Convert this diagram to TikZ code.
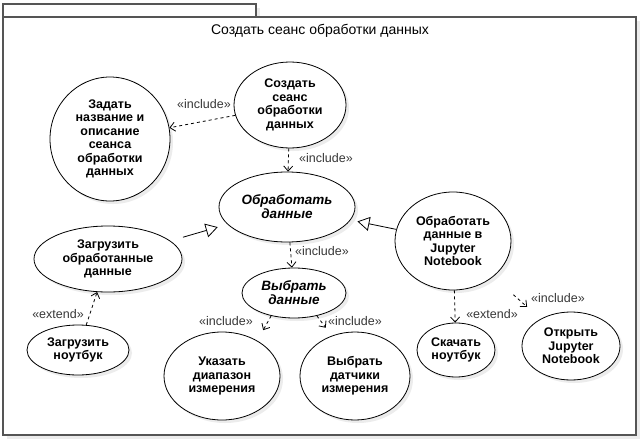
\documentclass[tikz,border=0pt]{standalone}
\usepackage{fontspec}
\setmainfont{Liberation Sans}
\usepackage{tikz}
\usetikzlibrary{
    positioning,
    arrows.meta,
    shapes.geometric,
    shadows
}
\definecolor{frameGray}{RGB}{85, 85, 85}
\definecolor{labelGray}{RGB}{55, 55, 55}
\definecolor{shadowGray}{RGB}{236, 236, 236}

\begin{document}
\begin{tikzpicture}[x=1pt, y=-1pt,
    usecase/.style={ellipse, draw, line width=0.8pt, fill=white, align=center, inner sep=0pt,
        font=\fontsize{12.5}{13.5}\selectfont\bfseries,
        drop shadow={shadow xshift=3pt, shadow yshift=-3pt, fill=shadowGray, opacity=1}},
    abstractcase/.style={usecase, font=\fontsize{13.5}{14}\selectfont\bfseries\itshape},
    dep/.style={dash pattern=on 3pt off 3pt, line width=0.8pt, -{Straight Barb[length=5pt, width=9pt]}},
    gen/.style={line width=0.8pt, -{Triangle[open, length=12pt, width=14pt, fill=white]}},
    stereo/.style={font=\fontsize{12.5}{12.5}\selectfont, text=labelGray, inner sep=1pt},
    frameline/.style={draw=frameGray, line width=1.2pt, fill=white,
        drop shadow={shadow xshift=4pt, shadow yshift=-4pt, fill=shadowGray, opacity=1}}
]
        \useasboundingbox (0,0) rectangle (641,442);

        % package frame
        \draw[frameline] (3,4) rectangle (256,17);
        \draw[frameline] (3,17) rectangle (636,435);
        \node[font=\fontsize{14}{14}\selectfont] (title) at (320,31) {Создать сеанс обработки данных};

        % use cases
        \node[usecase, minimum width=112pt, minimum height=86pt] (create) at (290,105) {Создать\\сеанс\\обработки\\данных};
        \node[usecase, minimum width=120pt, minimum height=124pt] (name) at (110,139) {Задать\\название и\\описание\\сеанса\\обработки\\данных};
        \node[abstractcase, minimum width=136pt, minimum height=70pt] (process) at (287,207) {Обработать\\данные};
        \node[abstractcase, minimum width=104pt, minimum height=50pt] (select) at (294,293) {Выбрать\\данные};
        \node[usecase, minimum width=148pt, minimum height=66pt] (upload) at (108,259) {Загрузить\\обработанные\\данные};
        \node[usecase, minimum width=102pt, minimum height=50pt] (uploadnb) at (78,350) {Загрузить\\ноутбук};
        \node[usecase, minimum width=116pt, minimum height=88pt] (range) at (222,376) {Указать\\диапазон\\измерения};
        \node[usecase, minimum width=110pt, minimum height=88pt] (sensors) at (355,376) {Выбрать\\датчики\\измерения};
        \node[usecase, minimum width=116pt, minimum height=98pt] (jupyter) at (453,241) {Обработать\\данные в\\Jupyter\\Notebook};
        \node[usecase, minimum width=78pt, minimum height=54pt] (download) at (456,350) {Скачать\\ноутбук};
        \node[usecase, minimum width=98pt, minimum height=68pt] (open) at (571,346) {Открыть\\Jupyter\\Notebook};

        % include / extend
        \draw[dep] (create) -- (name);
        \draw[dep] (create) -- (process);
        \draw[dep] (process) -- (select);
        \draw[dep, shorten >=12pt] (select.225) -- (range.45);
        \draw[dep, shorten >=10pt] (select.-45) -- (sensors.120);
        \draw[dep] (uploadnb) -- (upload);
        \draw[dep] (jupyter) -- (download);
        \draw[dep, shorten <=27pt, shorten >=18pt] (jupyter) -- (open);

        % generalization
        \draw[gen, shorten <=13pt, shorten >=10pt] (upload) -- (process);
        \draw[gen, shorten >=7pt] (jupyter) -- (process);

        \node[stereo] (incName) at (204,104) {«include»};
        \node[stereo] (incProcess) at (326,158) {«include»};
        \node[stereo] (incSelect) at (322,251) {«include»};
        \node[stereo] (incRange) at (226,321) {«include»};
        \node[stereo] (incSensors) at (355,321) {«include»};
        \node[stereo] (extUpload) at (58,314) {«extend»};
        \node[stereo] (extDownload) at (492,314) {«extend»};
        \node[stereo] (incOpen) at (558,298) {«include»};
    \end{tikzpicture}
\end{document}
